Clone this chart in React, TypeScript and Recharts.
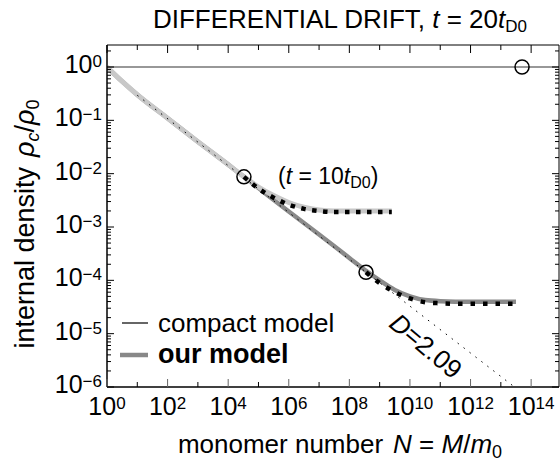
import React from 'react';
import { ComposedChart, Line, Scatter, XAxis, YAxis } from 'recharts';

const FONT = '"Liberation Sans", Arial, Helvetica, sans-serif';

// all values are log10 readings
const ourT20LogN = [0, 0.5, 1, 2, 3, 4, 4.5, 5, 6, 7, 8, 8.55, 9, 9.5, 10, 10.5, 11, 12, 13.5];
const ourT20LogRho = [0, -0.27, -0.52, -0.96, -1.4, -1.83, -2.05, -2.27, -2.71, -3.14, -3.58, -3.82, -4.0, -4.18, -4.3, -4.37, -4.39, -4.4, -4.4];

const ourT10LogN = [0, 0.5, 1, 2, 3, 4, 4.5, 5, 5.5, 6, 6.5, 7, 7.5, 9.4];
const ourT10LogRho = [0, -0.27, -0.52, -0.96, -1.4, -1.83, -2.05, -2.25, -2.41, -2.54, -2.63, -2.68, -2.7, -2.7];

const compactT10LogN = [4.52, 5, 5.5, 6, 6.5, 7, 7.5, 9.4];
const compactT10LogRho = [-2.06, -2.28, -2.45, -2.58, -2.66, -2.7, -2.72, -2.72];

const compactT20LogN = [8.55, 9, 9.5, 10, 10.5, 11, 11.5, 13.45];
const compactT20LogRho = [-3.85, -4.05, -4.22, -4.34, -4.41, -4.43, -4.44, -4.44];

const fractalLogN = [1, 13.45];
const fractalLogRho = [-0.53, -6.0];

const compactFlatLogN = [0, 14.92];
const compactFlatLogRho = [0, 0];

const circleLogN = [4.52, 8.55, 13.7];
const circleLogRho = [-2.06, -3.85, 0];

const xExps = [0, 1, 2, 3, 4, 5, 6, 7, 8, 9, 10, 11, 12, 13, 14];
const yExps = [-6, -5, -4, -3, -2, -1, 0];

const X_MIN = 1;
const X_MAX = 10 ** 14.92;
const Y_MIN = 1e-6;
const Y_MAX = 10 ** 0.4125;

const toPts = (lx: number[], ly: number[]) => lx.map((v, i) => ({ x: 10 ** v, y: 10 ** ly[i] }));

const xTicks = xExps.map(e => 10 ** e);
const yTicks: number[] = [];
yExps.forEach(e => {
  for (let m = 1; m <= 9; m++) {
    const v = m * 10 ** e;
    if (v <= Y_MAX) yTicks.push(v);
  }
});

const expOf = (v: number) => Math.round(Math.log10(v));
const isDecade = (v: number) => Math.abs(Math.log10(v) - expOf(v)) < 1e-6;
const supText = (e: number) => (e < 0 ? '\u2212' + -e : String(e));

const BottomTick = (p: any) => {
  const { x, y, payload } = p;
  const e = expOf(payload.value);
  const even = e % 2 === 0;
  return (
    <g>
      <line x1={x} x2={x} y1={y} y2={y - (even ? 8 : 5)} stroke={even ? '#666' : '#000'} strokeWidth={1} />
      {even && (
        <text x={x} y={y + 28} textAnchor="middle" fontFamily={FONT} fontSize={25} fill="#000">
          10<tspan fontSize={17} dy={-6}>{e}</tspan>
        </text>
      )}
    </g>
  );
};

const TopTick = (p: any) => {
  const { x, y, payload } = p;
  const e = expOf(payload.value);
  const even = e % 2 === 0;
  return <line x1={x} x2={x} y1={y} y2={y + (even ? 8 : 5)} stroke="#000" strokeWidth={1} />;
};

const LeftTick = (p: any) => {
  const { x, y, payload } = p;
  const major = isDecade(payload.value);
  const e = expOf(payload.value);
  return (
    <g>
      <line x1={x} x2={x + (major ? 7 : 4)} y1={y} y2={y} stroke="#000" strokeWidth={1} />
      {major && (
        <text x={x - 5} y={y + 6} textAnchor="end" fontFamily={FONT} fontSize={25} fill="#000">
          10<tspan fontSize={17} dy={-6}>{supText(e)}</tspan>
        </text>
      )}
    </g>
  );
};

const RightTick = (p: any) => {
  const { x, y, payload } = p;
  const major = isDecade(payload.value);
  return <line x1={x} x2={x - (major ? 7 : 4)} y1={y} y2={y} stroke="#000" strokeWidth={1} />;
};

const OpenCircle = (p: any) => (
  <circle cx={p.cx} cy={p.cy} r={7} fill="none" stroke="#000" strokeWidth={1.5} />
);

export default function App() {
  return (
    <div style={{ position: 'absolute', left: 0, top: 0, width: 560, height: 471, background: '#fff' }}>
      <ComposedChart width={560} height={471} margin={{ top: 44, right: 0, bottom: 0, left: 0 }}>
        <XAxis xAxisId="b" type="number" dataKey="x" scale="log" domain={[X_MIN, X_MAX]} allowDataOverflow
          ticks={xTicks} interval={0} height={84} tickSize={0} tickMargin={0} tickLine={false}
          axisLine={{ stroke: '#000', strokeWidth: 1.5 }} tick={BottomTick} />
        <XAxis xAxisId="t" orientation="top" type="number" dataKey="x" scale="log" domain={[X_MIN, X_MAX]} allowDataOverflow
          ticks={xTicks} interval={0} height={1} tickSize={0} tickMargin={0} tickLine={false}
          axisLine={{ stroke: '#000' }} tick={TopTick} />
        <YAxis yAxisId="l" type="number" dataKey="y" scale="log" domain={[Y_MIN, Y_MAX]} allowDataOverflow
          ticks={yTicks} interval={0} width={107} tickSize={0} tickMargin={0} tickLine={false}
          axisLine={{ stroke: '#000', strokeWidth: 1.5 }} tick={LeftTick} />
        <YAxis yAxisId="r" orientation="right" type="number" dataKey="y" scale="log" domain={[Y_MIN, Y_MAX]} allowDataOverflow
          ticks={yTicks} interval={0} width={1} tickSize={0} tickMargin={0} tickLine={false}
          axisLine={{ stroke: '#000' }} tick={RightTick} />

        <Line xAxisId="b" yAxisId="l" data={toPts(ourT20LogN, ourT20LogRho)} dataKey="y" type="monotone"
          stroke="#8a8a8a" strokeWidth={4.5} dot={false} isAnimationActive={false} />
        <Line xAxisId="b" yAxisId="l" data={toPts(ourT10LogN, ourT10LogRho)} dataKey="y" type="monotone"
          stroke="#c8c8c8" strokeWidth={5} dot={false} isAnimationActive={false} />
        <Line xAxisId="b" yAxisId="l" data={toPts(fractalLogN, fractalLogRho)} dataKey="y" type="linear"
          stroke="#000" strokeWidth={1} strokeDasharray="1.5 6" dot={false} isAnimationActive={false} />
        <Line xAxisId="b" yAxisId="l" data={toPts(compactT10LogN, compactT10LogRho)} dataKey="y" type="monotone"
          stroke="#000" strokeWidth={4.5} strokeDasharray="4.5 6.5" dot={false} isAnimationActive={false} />
        <Line xAxisId="b" yAxisId="l" data={toPts(compactT20LogN, compactT20LogRho)} dataKey="y" type="monotone"
          stroke="#000" strokeWidth={4.5} strokeDasharray="4.5 8" dot={false} isAnimationActive={false} />
        <Line xAxisId="b" yAxisId="l" data={toPts(compactFlatLogN, compactFlatLogRho)} dataKey="y" type="linear"
          stroke="#333" strokeWidth={1.2} dot={false} isAnimationActive={false} />
        <Scatter xAxisId="b" yAxisId="l" data={toPts(circleLogN, circleLogRho)} dataKey="y"
          shape={OpenCircle} isAnimationActive={false} />
      </ComposedChart>

      <svg width={560} height={471} style={{ position: 'absolute', left: 0, top: 0, pointerEvents: 'none' }}
        fontFamily={FONT} fill="#000">
        <text x={340} y={28} textAnchor="middle" fontSize={26}>
          DIFFERENTIAL DRIFT, <tspan fontStyle="italic">t</tspan> = 20<tspan fontStyle="italic">t</tspan>
          <tspan fontSize={17} dy={4}>D0</tspan>
        </text>

        <text transform="rotate(-90 34 224)" x={34} y={224} textAnchor="middle" fontSize={27}>
          internal density<tspan dx={10} fontStyle="italic">ρ</tspan>
          <tspan fontSize={18} fontStyle="italic" dy={5}>c</tspan>
          <tspan dy={-5}>/</tspan><tspan fontStyle="italic">ρ</tspan>
          <tspan fontSize={18} dy={5}>0</tspan>
        </text>

        <text x={340} y={453} textAnchor="middle" fontSize={26}>
          monomer number<tspan dx={10} fontStyle="italic">N</tspan> = <tspan fontStyle="italic">M</tspan>/<tspan fontStyle="italic">m</tspan>
          <tspan fontSize={18} dy={5}>0</tspan>
        </text>

        <text x={278} y={184} fontSize={23}>
          (<tspan fontStyle="italic">t</tspan> = 10<tspan fontStyle="italic">t</tspan>
          <tspan fontSize={16} dy={4}>D0</tspan><tspan dy={-4}>)</tspan>
        </text>

        <text transform="rotate(40 426 346)" x={426} y={355} textAnchor="middle" fontSize={26}>
          <tspan fontStyle="italic">D</tspan>=2.09
        </text>

        <line x1={122} x2={148} y1={323} y2={323} stroke="#000" strokeWidth={1.2} />
        <text x={158} y={332} fontSize={26}>compact model</text>
        <line x1={120} x2={148} y1={355} y2={355} stroke="#888" strokeWidth={4.5} />
        <text x={158} y={363} fontSize={27} fontWeight="bold">our model</text>
      </svg>
    </div>
  );
}
